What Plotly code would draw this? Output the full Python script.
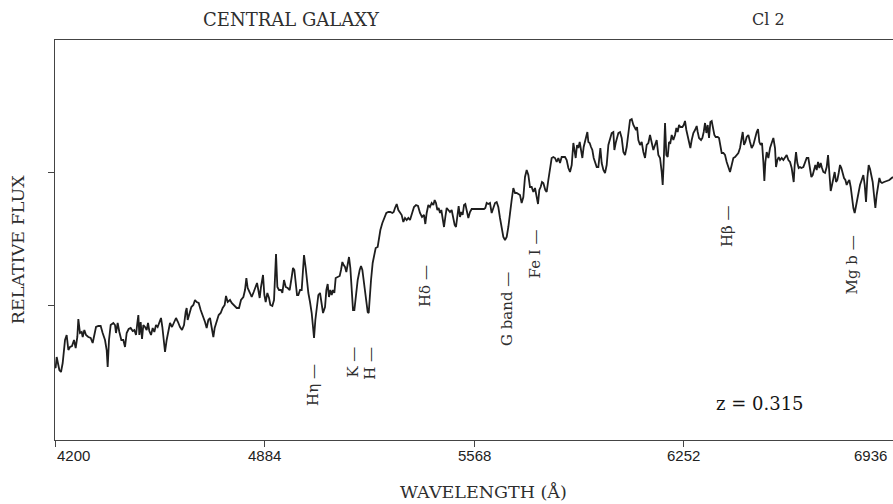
import plotly.graph_objects as go

# Wavelength (Angstrom) and relative flux
wavelength = [
    4200, 4202, 4205.5, 4209.8, 4214.2, 4219.6, 4225.1, 4232.7, 4238.1, 4243.6, 4249.0, 4255.5,
    4262.1, 4267.5, 4272.9, 4276.2, 4281.6, 4287.1, 4290.4, 4295.8, 4301.2, 4308.9, 4316.5,
    4323.0, 4328.4, 4333.9, 4341.5, 4349.1, 4355.6, 4363.3, 4368.7, 4372.0, 4376.3, 4381.8,
    4390.5, 4395.9, 4399.2, 4404.6, 4410.1, 4416.6, 4423.1, 4428.6, 4434.0, 4440.5, 4447.1,
    4453.6, 4459.0, 4464.5, 4468.8, 4472.1, 4475.4, 4479.7, 4484.1, 4488.4, 4493.9, 4499.3,
    4503.7, 4508.0, 4513.5, 4518.9, 4524.3, 4529.8, 4535.2, 4540.7, 4546.1, 4550.5, 4554.8,
    4559.2, 4564.6, 4570.0, 4575.5, 4582.0, 4588.5, 4595.1, 4601.6, 4608.1, 4614.7, 4621.2,
    4626.6, 4629.9, 4633.2, 4638.6, 4645.1, 4651.7, 4657.1, 4662.6, 4669.1, 4675.6, 4682.1,
    4689.8, 4695.2, 4700.6, 4706.1, 4711.5, 4717.0, 4721.3, 4727.9, 4734.4, 4740.9, 4747.4,
    4754.0, 4758.3, 4763.8, 4771.4,
    4776.9, 4785.6, 4793.2, 4800.8, 4807.3, 4815.0, 4820.4, 4824.8, 4829.1, 4836.7, 4842.2,
    4848.7, 4855.2, 4859.6, 4863.9, 4868.3, 4872.6, 4879.2, 4883.5, 4887.9, 4893.3, 4898.8,
    4903.1, 4909.6, 4915.1, 4921.6, 4926.0, 4931.4, 4937.9, 4942.3, 4947.7, 4953.2, 4959.7,
    4966.2, 4972.8, 4977.1, 4981.5, 4985.8, 4990.2, 4994.5, 5000.0, 5005.4, 5009.8, 5013.0,
    5018.5, 5022.8, 5027.2, 5032.6, 5038.1, 5042.4, 5045.7, 5050.0, 5055.5, 5059.8, 5065.3,
    5070.7, 5075.1, 5081.6, 5086.0, 5090.3, 5094.6, 5099.0, 5103.4, 5107.7, 5112.1, 5116.4,
    5122.9, 5129.5, 5133.8, 5138.2, 5142.5, 5146.9, 5151.2, 5155.6, 5159.9, 5164.3, 5168.7,
    5173.0, 5177.4, 5181.7, 5188.3, 5194.8, 5199.1, 5203.5, 5207.8, 5212.2, 5216.5, 5220.9,
    5224.2, 5227.4, 5231.8, 5237.2, 5242.7, 5247.0, 5253.5, 5257.9, 5262.3, 5268.8, 5275.3,
    5281.8, 5288.4, 5294.9, 5301.4, 5305.8, 5310.1, 5315.6, 5321.0, 5326.5, 5331.9, 5337.3,
    5342.8,
    5348.2, 5353.6, 5359.0, 5365.6, 5372.1, 5378.6, 5385.2, 5391.7, 5398.2, 5404.8, 5409.1,
    5413.5, 5418.9, 5424.3, 5429.8, 5435.2, 5439.6, 5443.9, 5448.3, 5452.6, 5457.0, 5461.3,
    5465.7, 5470.1, 5474.4, 5478.8, 5484.2, 5489.6, 5495.1, 5500.5, 5504.9, 5509.2, 5513.6,
    5517.9, 5522.3, 5526.6, 5531.0, 5535.4, 5539.7, 5544.1, 5549.5, 5554.9, 5560.4, 5582.2,
    5600.7, 5605.0, 5609.4, 5614.8, 5620.2, 5625.7, 5631.1, 5636.6, 5642.0, 5647.4, 5652.9,
    5658.3, 5663.8, 5669.2, 5674.7, 5680.1, 5685.5, 5691.0, 5696.4, 5701.9, 5707.3, 5712.7,
    5718.2, 5723.6, 5729.1, 5734.5, 5740.0, 5745.4, 5750.8, 5756.3, 5761.7, 5767.2, 5772.6,
    5777.0, 5781.3, 5785.7, 5790.0, 5794.4, 5800.9, 5805.3, 5810.7, 5816.1, 5821.6, 5827.0,
    5832.5, 5837.9, 5843.4, 5848.8, 5854.2, 5859.7, 5865.1,
    5870.6, 5876.1, 5881.5, 5887.0, 5892.4, 5895.7, 5900.0, 5904.4, 5908.7, 5913.1, 5917.4,
    5921.8, 5926.1, 5930.5, 5934.9, 5938.1, 5941.4, 5945.7, 5950.1, 5954.4, 5958.8, 5963.2,
    5968.6, 5974.0, 5977.3, 5980.6, 5984.9, 5990.4, 5995.8, 6001.2, 6006.7, 6012.1, 6017.6,
    6023.0, 6026.3, 6030.6, 6035.0, 6039.3, 6044.8, 6050.2, 6055.7, 6061.1, 6066.5, 6072.0,
    6077.4, 6082.9, 6088.3, 6093.7, 6097.0, 6100.3, 6104.6, 6110.1, 6115.5, 6121.0, 6126.4,
    6131.8, 6137.3, 6142.7, 6148.2, 6153.6, 6159.0, 6164.5, 6169.9, 6175.4, 6180.8, 6184.1,
    6187.3, 6191.7, 6196.0, 6200.4, 6204.8, 6209.1, 6213.5, 6218.9, 6224.3, 6228.7, 6233.0,
    6237.4, 6241.8, 6248.3, 6252.6, 6257.0, 6261.3, 6265.7, 6270.0, 6274.4, 6278.8, 6284.2,
    6289.6, 6295.1, 6298.4, 6302.7, 6309.3, 6313.6, 6318.0, 6322.3, 6326.7, 6331.0, 6335.4,
    6339.7, 6344.1, 6348.4, 6352.8, 6357.1, 6363.7, 6368.0, 6372.4, 6376.7, 6382.2, 6387.6,
    6393.0, 6398.5, 6403.9, 6409.4, 6414.8, 6420.2,
    6425.7, 6431.1, 6436.5, 6442.0, 6445.3, 6449.6, 6454.0, 6458.3, 6463.8, 6469.2, 6474.6,
    6480.1, 6485.5, 6491.0, 6495.3, 6499.7, 6504.0, 6508.4, 6512.7, 6516.0, 6519.3, 6523.6,
    6529.1, 6534.5, 6539.9, 6545.4, 6550.8, 6554.1, 6558.4, 6562.8, 6567.1, 6572.6, 6578.0,
    6583.5, 6588.9, 6594.4, 6599.8, 6605.2, 6608.5, 6611.8, 6615.0, 6619.4, 6623.7, 6628.1,
    6632.4, 6636.8, 6643.3, 6648.8, 6654.2, 6659.6, 6665.1, 6669.4, 6673.8, 6678.2, 6682.5,
    6686.9, 6691.2, 6695.6, 6699.9, 6704.3, 6708.6, 6714.1, 6719.5, 6723.9, 6728.2, 6732.6,
    6736.9, 6741.3, 6745.6, 6750.0, 6754.3, 6758.7, 6763.0, 6767.4, 6771.7, 6776.1, 6780.5,
    6784.8, 6789.2, 6793.5, 6797.9, 6802.2, 6806.6, 6810.9, 6815.3, 6819.6, 6824.0, 6828.3,
    6833.8, 6839.2, 6843.6, 6847.9, 6852.3, 6856.6, 6861.0, 6865.3, 6869.7, 6874.0, 6878.4,
    6882.7, 6887.1, 6891.5, 6895.8, 6900.2, 6906.7, 6915.4, 6924.1, 6931.7, 6936,
]

flux = [
    0.73, 0.72, 0.83, 0.77, 0.70, 0.68, 0.77, 1.00, 1.05, 0.90, 0.93, 0.94,
    1.00, 0.92, 1.03, 1.21, 1.07, 1.08, 1.03, 1.10, 1.05, 1.03, 1.02,
    0.97, 1.05, 1.13, 1.14, 1.14, 1.07, 1.00, 0.90, 0.73, 1.00, 1.15,
    1.17, 1.15, 1.07, 1.17, 1.08, 1.00, 1.00, 0.93, 1.07, 1.11, 1.12,
    1.09, 1.10, 1.05, 1.17, 1.25, 1.05, 1.18, 1.01, 1.15, 1.13, 1.10,
    1.17, 1.09, 1.05, 1.12, 1.08, 1.15, 1.13, 1.17, 1.22, 1.13, 1.00,
    0.88, 1.00, 1.10, 1.17, 1.13, 1.17, 1.22, 1.18, 1.13, 1.10, 1.15,
    1.28, 1.32, 1.20, 1.27, 1.33, 1.35, 1.40, 1.38, 1.37, 1.30, 1.25,
    1.18, 1.12, 1.20, 1.22, 1.12, 1.03, 1.12, 1.20, 1.25, 1.27, 1.32,
    1.35, 1.44, 1.38, 1.40,
    1.37, 1.34, 1.32, 1.32, 1.40, 1.43, 1.50, 1.62, 1.52, 1.47, 1.43,
    1.48, 1.53, 1.57, 1.50, 1.42, 1.53, 1.65, 1.45, 1.38, 1.47, 1.42,
    1.35, 1.34, 1.40, 1.86, 1.53, 1.50, 1.50, 1.47, 1.60, 1.53, 1.52,
    1.50, 1.63, 1.72, 1.70, 1.60, 1.45, 1.45, 1.50, 1.50, 1.67, 1.85,
    1.72, 1.57, 1.47, 1.38, 1.27, 1.13, 1.02, 1.20, 1.37, 1.45, 1.47,
    1.37, 1.27, 1.33, 1.50, 1.56, 1.43, 1.50, 1.45, 1.50, 1.47, 1.62,
    1.63, 1.64, 1.70, 1.78, 1.75, 1.73, 1.68, 1.77, 1.83, 1.72, 1.50,
    1.30, 1.30, 1.43, 1.60, 1.70, 1.74, 1.70, 1.60, 1.50, 1.38, 1.28,
    1.27, 1.43, 1.60, 1.77, 1.87, 1.92, 1.93, 2.02, 2.10, 2.17, 2.22,
    2.27, 2.28, 2.28, 2.27, 2.28, 2.32, 2.36, 2.30, 2.28, 2.25, 2.18,
    2.22,
    2.20, 2.22, 2.20, 2.27, 2.33, 2.35, 2.34, 2.27, 2.23, 2.25, 2.16,
    2.27, 2.35, 2.33, 2.37, 2.35, 2.40, 2.37, 2.30, 2.32, 2.27, 2.30,
    2.20, 2.13, 2.23, 2.32, 2.30, 2.28, 2.30, 2.20, 2.15, 2.13, 2.27,
    2.34, 2.23, 2.28, 2.25, 2.35, 2.36, 2.30, 2.22, 2.28, 2.31, 2.31,
    2.31, 2.32, 2.37, 2.36, 2.37, 2.27, 2.33, 2.37, 2.38, 2.33, 2.22,
    2.10, 2.03, 2.00, 2.03, 2.13, 2.30, 2.40, 2.52, 2.47, 2.47, 2.46,
    2.45, 2.37, 2.43, 2.63, 2.70, 2.65, 2.53, 2.53, 2.48, 2.52, 2.43,
    2.36, 2.50, 2.53, 2.58, 2.57, 2.50, 2.48, 2.60, 2.72, 2.82, 2.83,
    2.82, 2.78, 2.82, 2.77, 2.83, 2.83, 2.83,
    2.80, 2.72, 2.68, 2.75, 2.97, 2.88, 2.82, 2.95, 2.92, 2.98, 2.88,
    2.82, 2.93, 2.98, 3.02, 3.08, 2.98, 2.97, 2.93, 2.90, 2.82, 2.77,
    2.73, 2.73, 2.82, 2.92, 2.77, 2.70, 2.67, 2.75, 2.95, 3.02, 3.07,
    3.08, 2.90, 2.97, 3.02, 3.07, 3.08, 3.02, 2.88, 2.85, 2.93, 3.10,
    3.20, 3.21, 3.15, 3.12, 3.10, 3.13, 3.00, 2.95, 2.98, 2.88, 2.82,
    2.95, 2.97, 3.05, 2.98, 2.90, 2.95, 3.00, 2.85, 2.82, 2.68, 2.55,
    2.77, 3.17, 2.85, 2.83, 2.98, 2.97, 3.05, 3.00, 3.05, 3.12, 3.08,
    3.15, 3.13, 3.13, 3.15, 3.19, 3.10, 3.03, 2.97, 2.92, 3.00, 3.07,
    3.10, 3.14, 3.08, 3.02, 3.00, 3.02, 3.08, 3.17, 3.07, 3.15, 3.02,
    3.18, 3.19, 3.10, 3.05, 3.03, 3.03, 3.02, 2.93, 2.87, 2.87, 2.85,
    2.78, 2.72, 2.68, 2.75, 2.82, 2.83,
    2.85, 2.87, 2.92, 3.00, 3.08, 2.95, 2.98, 3.03, 3.05, 2.98, 2.92,
    2.95, 3.02, 3.08, 3.11, 2.98, 2.95, 2.97, 2.78, 2.59, 2.78, 2.88,
    2.82, 2.92, 2.97, 3.02, 2.92, 2.73, 2.80, 2.83, 2.80, 2.82, 2.80,
    2.83, 2.85, 2.80, 2.78, 2.72, 2.62, 2.58, 2.75, 2.88, 2.77, 2.72,
    2.73, 2.72, 2.73, 2.78, 2.82, 2.82, 2.70, 2.63, 2.65, 2.72, 2.75,
    2.70, 2.78, 2.72, 2.77, 2.72, 2.68, 2.67, 2.73, 2.85, 2.62, 2.49,
    2.55, 2.62, 2.68, 2.58, 2.60, 2.67, 2.75, 2.72, 2.67, 2.62, 2.60,
    2.55, 2.58, 2.60, 2.53, 2.42, 2.32, 2.27, 2.35, 2.42, 2.48, 2.55,
    2.60, 2.65, 2.55, 2.38, 2.62, 2.75, 2.71, 2.65, 2.58, 2.45, 2.32,
    2.45, 2.55, 2.62, 2.58, 2.57, 2.58, 2.59, 2.60, 2.62, 2.63,
]

# x-axis ticks
tick_values = [4200, 4884, 5568, 6252, 6936]
tick_labels = ["4200", "4884", "5568", "6252", "6936"]

# spectral line identifications
line_names = ["H\u03b7", "K", "H", "H\u03b4", "G band", "Fe I", "H\u03b2", "Mg b"]
line_wavelengths = [5042, 5170, 5226, 5408, 5676, 5767, 6394, 6802]
label_tops = [0.78, 0.95, 0.95, 1.77, 1.70, 2.13, 2.37, 2.07]

redshift_text = "z = 0.315"

SERIF = "DejaVu Serif, Liberation Serif, serif"
NARROW = "Liberation Sans Narrow, Arial Narrow, sans-serif"
INK = "#1e1e1e"
TXT = "#2e2e2e"

fig = go.Figure()
fig.add_trace(go.Scatter(
    x=wavelength, y=flux, mode="lines",
    line=dict(color=INK, width=1.8), hoverinfo="skip", showlegend=False,
))

annotations = []
for name, lam, top in zip(line_names, line_wavelengths, label_tops):
    annotations.append(dict(
        x=lam, y=top, xref="x", yref="y", text=name + " \u2014",
        textangle=-90, showarrow=False, xanchor="center", yanchor="top",
        font=dict(family=SERIF, size=15, color=TXT),
    ))

for v, t in zip(tick_values, tick_labels):
    anchor = "left" if v == tick_values[0] else ("right" if v == tick_values[-1] else "center")
    annotations.append(dict(
        x=v, y=-0.0375, xref="x", yref="paper", text=t, showarrow=False,
        xanchor=anchor, yanchor="middle", xshift=(-4 if v == tick_values[-1] else 0),
        font=dict(family=NARROW, size=15, color="#222"),
    ))

annotations += [
    dict(x=6502, y=0.37, xref="x", yref="y", text=redshift_text, showarrow=False,
         font=dict(family=SERIF, size=18, color="#151515"), xanchor="center", yanchor="middle"),
    dict(x=0.282, y=1.05, xref="paper", yref="paper", text="CENTRAL GALAXY", showarrow=False,
         font=dict(family=SERIF, size=18, color=TXT), xanchor="center", yanchor="middle"),
    dict(x=0.851, y=1.05, xref="paper", yref="paper", text="Cl 2", showarrow=False,
         font=dict(family=SERIF, size=16, color=TXT), xanchor="center", yanchor="middle"),
    dict(x=-0.044, y=0.475, xref="paper", yref="paper", text="RELATIVE FLUX", showarrow=False,
         textangle=-90, font=dict(family=SERIF, size=17.5, color=TXT),
         xanchor="center", yanchor="middle"),
    dict(x=0.511, y=-0.13, xref="paper", yref="paper", text="WAVELENGTH (\u00c5)", showarrow=False,
         font=dict(family=SERIF, size=17.5, color=TXT), xanchor="center", yanchor="middle"),
]

fig.update_layout(
    width=893, height=504,
    margin=dict(l=55, r=0, t=40, b=64),
    paper_bgcolor="white", plot_bgcolor="white",
    showlegend=False,
    annotations=annotations,
)
fig.update_xaxes(
    range=[4200, 6936], tickvals=tick_values, showticklabels=False,
    ticks="outside", ticklen=6, tickcolor="#444", tickwidth=1,
    showline=True, linecolor="#444", linewidth=1, mirror=True,
    showgrid=False, zeroline=False,
)
fig.update_yaxes(
    range=[0, 4.0], tickvals=[1.35, 2.68], showticklabels=False,
    ticks="outside", ticklen=6, tickcolor="#444", tickwidth=1,
    showline=True, linecolor="#444", linewidth=1, mirror=True,
    showgrid=False, zeroline=False,
)

# place the figure flush with the window corner, hide scrollbars and the modebar
fig.write_html(
    "out.html",
    config={"displayModeBar": False},
    post_script="document.documentElement.style.overflow='hidden';"
                "document.body.style.overflow='hidden';"
                "document.body.style.margin='0px';",
)
